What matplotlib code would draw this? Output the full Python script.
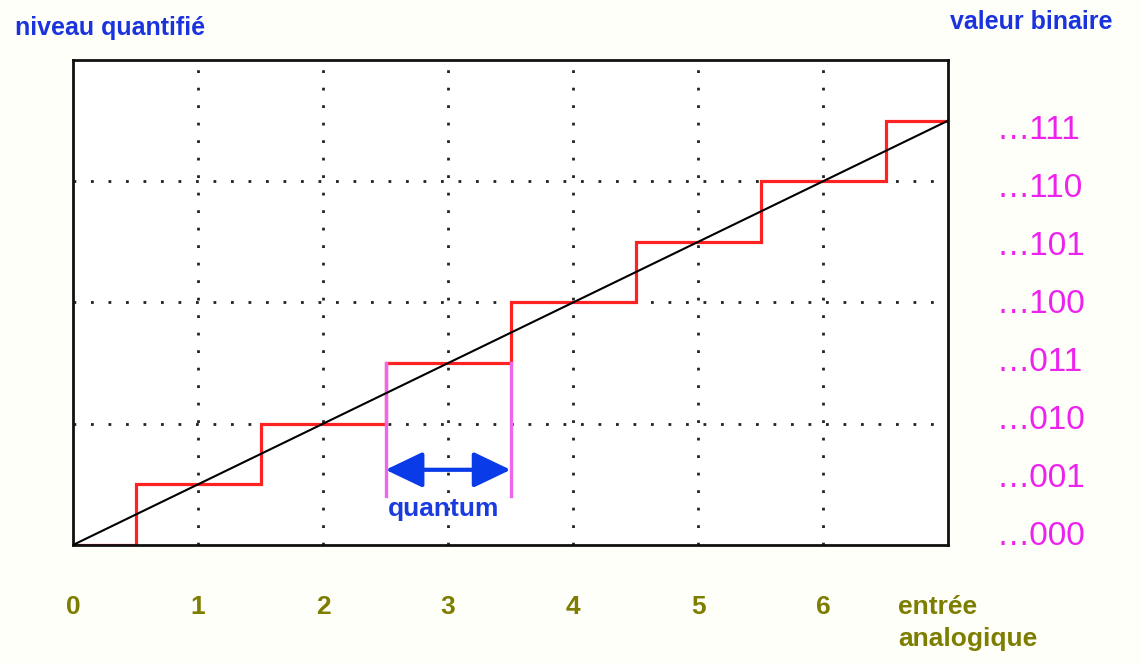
import numpy as np
import matplotlib.pyplot as plt

plt.rcParams['font.family'] = ['Liberation Sans', 'DejaVu Sans']

# quantization levels and analog input edges
levels = [0, 1, 2, 3, 4, 5, 6, 7]
edges = [0, 0.5, 1.5, 2.5, 3.5, 4.5, 5.5, 6.5, 7]
analog = [0, 7]
codes = ['…000', '…001', '…010', '…011', '…100', '…101', '…110', '…111']
xticks = [0, 1, 2, 3, 4, 5, 6]
quantum_edges = [2.5, 3.5]

fig = plt.figure(figsize=(11.41, 6.65), dpi=100, facecolor='#fffffa')
ax = fig.add_axes([0.064, 0.1805, 0.767, 0.7293])
ax.set_xlim(0, 7)
ax.set_ylim(0, 8)

# dotted grid
for x in xticks[1:]:
    ax.axvline(x, color='#222222', lw=2, ls=(0, (1, 5.3)), zorder=1)
for y in [2, 4, 6]:
    ax.axhline(y, color='#222222', lw=2, ls=(0, (1, 5.3)), zorder=1)

# ideal line and staircase
ax.plot(analog, analog, color='black', lw=1.5, zorder=3)
ax.stairs(levels, edges, color='#ff2222', lw=2.3, baseline=None, zorder=2)

# quantum marker
for q in quantum_edges:
    ax.plot([q, q], [0.8, 3], color='#ee66ee', lw=2.4, zorder=2)
ax.annotate('', xy=(quantum_edges[0], 1.24), xytext=(quantum_edges[1], 1.24),
            arrowprops=dict(arrowstyle='<|-|>,head_length=2.3,head_width=1.1',
                            color='#0a3be8', lw=3, shrinkA=0, shrinkB=0), zorder=4)
ax.text(np.mean(quantum_edges) - 0.04, 0.6, 'quantum', color='#1a3be0', fontsize=19,
        fontweight='bold', ha='center', va='center')

ax.set_xticks([])
ax.set_yticks([])
for s in ax.spines.values():
    s.set_linewidth(2)
    s.set_color('#111111')

# x labels
for x in xticks:
    ax.text(x, -1.03, str(x), color='#7d7d00', fontsize=19, fontweight='bold',
            ha='center', va='center')
ax.text(6.6, -1.03, 'entrée', color='#7d7d00', fontsize=19, fontweight='bold',
        ha='left', va='center')
ax.text(6.6, -1.55, 'analogique', color='#7d7d00', fontsize=19, fontweight='bold',
        ha='left', va='center')

# binary codes on the right
for i, c in enumerate(codes):
    ax.text(1.055, 0.017 + i * 0.1196, c, transform=ax.transAxes, color='#ee22ee',
            fontsize=24, ha='left', va='center')

fig.text(0.013, 0.958, 'niveau quantifié', color='#1a33dd', fontsize=18,
         fontweight='bold', ha='left', va='center')
fig.text(0.975, 0.967, 'valeur binaire', color='#1a33dd', fontsize=18,
         fontweight='bold', ha='right', va='center')

fig.savefig('out.png', dpi=100, facecolor=fig.get_facecolor())
